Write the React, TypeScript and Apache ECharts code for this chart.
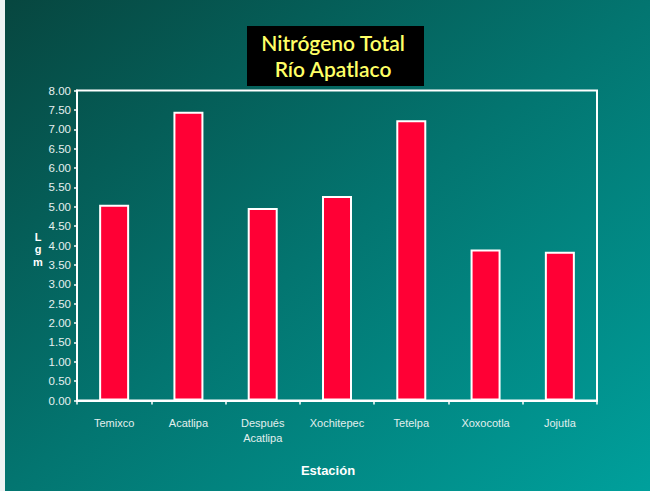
import React, { useEffect, useRef } from "react";
import * as echarts from "echarts";

const categories = ["Temixco", "Acatlipa", "Después\nAcatlipa", "Xochitepec", "Tetelpa", "Xoxocotla", "Jojutla"];
const values = [5.05, 7.45, 4.97, 5.28, 7.23, 3.9, 3.84];
const titleLines = ["Nitrógeno Total", "Río Apatlaco"];
const yAxisLabel = "L\ng\nm";
const xAxisTitle = "Estación";

export default function App() {
  const ref = useRef<HTMLDivElement>(null);
  useEffect(() => {
    if (!ref.current) return;
    const chart = echarts.init(ref.current, undefined, { renderer: "svg" });
    const title = titleLines.join("\n");
    chart.setOption({
      animation: false,
      backgroundColor: new echarts.graphic.LinearGradient(0, 0, 1, 1, [
        { offset: 0, color: "#07463f" },
        { offset: 0.5, color: "#037570" },
        { offset: 1, color: "#00a09c" },
      ]),
      grid: { left: 77, right: 53, top: 90.5, bottom: 90.5, show: true, borderColor: "#ffffff", borderWidth: 2, backgroundColor: "transparent" },
      xAxis: {
        type: "category",
        data: categories,
        boundaryGap: true,
        axisLine: { lineStyle: { color: "#ffffff", width: 2 } },
        axisTick: { show: true, length: 4, lineStyle: { color: "#ffffff", width: 1.5 }, alignWithLabel: false },
        axisLabel: { color: "#e2efee", fontSize: 11, fontFamily: "Arial, Liberation Sans", margin: 15, lineHeight: 15, interval: 0 },
      },
      yAxis: {
        type: "value",
        min: 0,
        max: 8,
        interval: 0.5,
        splitLine: { show: false },
        axisLine: { show: true, lineStyle: { color: "#ffffff", width: 2 } },
        axisTick: { show: true, length: 3, lineStyle: { color: "#ffffff", width: 1.5 } },
        axisLabel: { color: "#e6f0ef", fontSize: 11.5, fontFamily: "Arial, Liberation Sans", margin: 6, formatter: (v: number) => v.toFixed(2) },
      },
      series: [
        {
          type: "bar",
          data: values,
          barWidth: 30,
          itemStyle: { color: "#ff0035", borderColor: "#ffffff", borderWidth: 2 },
        },
      ],
      graphic: [
        { type: "rect", shape: { x: 0, y: 0, width: 5, height: 491 }, style: { fill: "#eef3f3" } },
        { type: "rect", shape: { x: 247, y: 26, width: 177, height: 60 }, style: { fill: "#000000" } },
        {
          type: "text",
          x: 333,
          y: 55,
          style: {
            text: title,
            fill: "#ffff66",
            font: "600 21px Lato, 'Open Sans', sans-serif",
            align: "center",
            verticalAlign: "middle",
            lineHeight: 26,
          },
        },
        {
          type: "text",
          x: 38,
          y: 249,
          style: {
            text: yAxisLabel,
            fill: "#ffffff",
            font: "bold 11px Arial, 'Liberation Sans', sans-serif",
            align: "center",
            verticalAlign: "middle",
            lineHeight: 12.5,
          },
        },
        {
          type: "text",
          x: 328,
          y: 470,
          style: {
            text: xAxisTitle,
            fill: "#ffffff",
            font: "bold 13px Arial, 'Liberation Sans', sans-serif",
            align: "center",
            verticalAlign: "middle",
          },
        },
      ],
    });
    return () => chart.dispose();
  }, []);
  return <div ref={ref} style={{ position: "fixed", left: 0, top: 0, width: 650, height: 491 }} />;
}
